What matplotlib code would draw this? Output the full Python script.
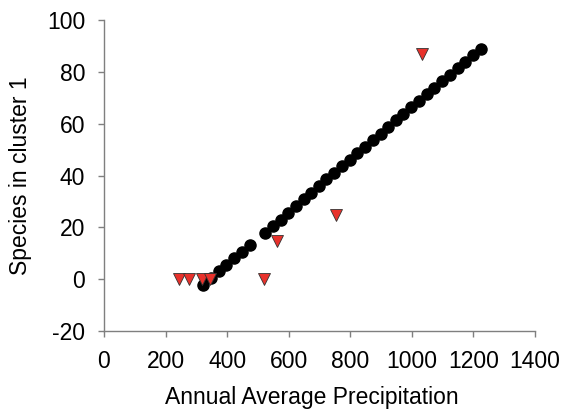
import matplotlib
matplotlib.use("Agg")
import matplotlib.pyplot as plt
import numpy as np

plt.rcParams['font.family'] = ['Liberation Sans', 'DejaVu Sans']
plt.rcParams['axes.unicode_minus'] = False

# fitted line (black dots)
fit_x = [323, 348, 374, 398, 423, 449, 474,
         523, 549, 574, 599, 624, 649, 673, 698, 723, 748, 773, 798,
         823, 849, 874, 899, 924, 949, 973, 998, 1023, 1048, 1073,
         1098, 1123, 1149, 1174, 1199, 1224]
fit_y = [-2.1, 0.3, 3.0, 5.4, 8.0, 10.6, 13.1,
         18.0, 20.5, 23.0, 25.6, 28.2, 30.8, 33.3, 35.9, 38.5, 41.1, 43.6, 46.0,
         48.5, 51.1, 53.7, 56.2, 58.8, 61.3, 63.7, 66.3, 68.7, 71.3, 73.9,
         76.4, 78.9, 81.3, 83.9, 86.5, 88.9]

# observed (red triangles)
obs_x = [244, 277, 320, 345, 519, 561, 754, 1032]
obs_y = [0, 0, 0, 0, 0, 14.8, 24.7, 86.9]

x_ticks = np.arange(0, 1401, 200)
y_ticks = np.arange(-20, 101, 20)

fig = plt.figure(figsize=(5.63, 4.15), dpi=100)
ax = fig.add_axes([0.1847, 0.2024, 0.7653, 0.7494])

ax.plot(fit_x, fit_y, 'o', color='black', markersize=8, zorder=2)
ax.plot(obs_x, obs_y, 'v', color='#E8312B', markeredgecolor='#333333',
        markeredgewidth=0.6, markersize=8.5, zorder=3)

ax.set_xlim(0, 1400)
ax.set_ylim(-20, 100)
ax.set_xticks(x_ticks)
ax.set_yticks(y_ticks)

for side in ('top', 'right'):
    ax.spines[side].set_visible(False)
for side in ('left', 'bottom'):
    ax.spines[side].set_color('#7f7f7f')
    ax.spines[side].set_linewidth(1.0)
ax.tick_params(direction='out', length=4, width=1, color='#7f7f7f',
               labelsize=16.5, labelcolor='black', pad=9.5)

ax.set_xlabel("Annual Average Precipitation", fontsize=16.5, labelpad=9.5)
ax.xaxis.label.set_x(0.482)
ax.set_ylabel("Species in cluster 1", fontsize=16.5, labelpad=11)

fig.savefig("out.png", dpi=100)
